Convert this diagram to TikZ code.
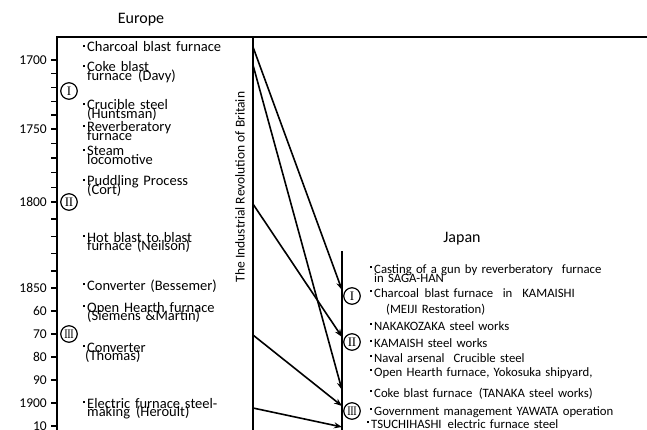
\documentclass[tikz,border=0pt]{standalone}
\usepackage{graphicx}
\usepackage{fontspec}
\setmainfont{Carlito}
\newfontfamily\numfont{Liberation Serif}
\usetikzlibrary{arrows.meta}
\newlength\bulw
\setlength\bulw{4pt}
\newcommand\bul{\makebox[\bulw][l]{\rule[4.8pt]{1.9pt}{1.9pt}}}
\newcommand\ind{\hspace*{\bulw}}
\newcommand\rI{I}
\newcommand\rII{I\kern-0.5ptI}
\newcommand\rIII{\scalebox{0.78}[1]{I\kern-0.5ptI\kern-0.5ptI}}
\begin{document}
\begin{tikzpicture}[x=1pt,y=-1pt,
  frame/.style={line width=1.6pt},
  tickmark/.style={line width=1.4pt},
  yearlab/.style={anchor=east,inner sep=0pt,font={\fontsize{13.5}{14}\selectfont}},
  euitem/.style={anchor=base west,inner sep=0pt,text width=168pt,align=left,
     font={\fontsize{14.5}{8.5}\selectfont\lineskiplimit=-100pt}},
  jpitem/.style={anchor=base west,inner sep=0pt,text width=270pt,align=left,
     font={\fontsize{12.75}{9}\selectfont\lineskiplimit=-100pt}},
  era/.style={circle,draw,line width=1.2pt,minimum size=16.5pt,inner sep=0pt,
     font={\numfont\fontsize{13}{13}\selectfont}},
  title/.style={anchor=base,inner sep=0pt,font={\fontsize{16}{16}\selectfont}},
  arr/.style={line width=1.6pt,-{Stealth[length=8pt,width=6pt]}},
]
\useasboundingbox (0,0) rectangle (647,430);

% frame
\draw[frame] (57,440) -- (57,37) -- (650,37);
\draw[frame] (253,37) -- (253,440);
\draw[frame] (342,251) -- (342,440);

% titles
\node[title] (europe) at (141,24) {Europe};
\node[title] (japan) at (462,243) {Japan};
\node[rotate=90,inner sep=0pt,font={\fontsize{13.5}{14}\selectfont}] (irb) at (240,187)
  {The Industrial Revolution of Britain};

% axis ticks
\foreach \ty in {60,73.8,87.6,101.4,115.2,129,143.6,158.2,172.8,187.4,202,
                 219.2,236.4,253.6,270.8,288,311,334,357,380,403,426}
  \draw[tickmark] (51,\ty) -- (57,\ty);

% year labels
\node[yearlab] (y1700) at (47,60) {1700};
\node[yearlab] (y1750) at (47,129) {1750};
\node[yearlab] (y1800) at (47,202) {1800};
\node[yearlab] (y1850) at (47,288) {1850};
\node[yearlab] (y1860) at (47,311) {60};
\node[yearlab] (y1870) at (47,334) {70};
\node[yearlab] (y1880) at (47,357) {80};
\node[yearlab] (y1890) at (47,380) {90};
\node[yearlab] (y1900) at (47,403) {1900};
\node[yearlab] (y1910) at (47,426) {10};

% era circles Europe
\node[era] (eI) at (69,91) {\rI};
\node[era] (eII) at (69,202) {\rII};
\node[era] (eIII) at (69,334) {\rIII};

% era circles Japan
\node[era] (jI) at (352,296) {\rI};
\node[era] (jII) at (352,342) {\rII};
\node[era] (jIII) at (352,411) {\rIII};

% Europe items
\node[euitem] (e1) at (83,52) {\bul Charcoal blast furnace};
\node[euitem] (e2) at (83,72) {\bul Coke blast\\\ind furnace\hspace{6pt}(Davy)};
\node[euitem] (e3) at (83,110) {\bul Crucible steel\\\ind(Huntsman)};
\node[euitem] (e4) at (83,132) {\bul Reverberatory\\\ind furnace};
\node[euitem] (e5) at (83,156) {\bul Steam\\\ind locomotive};
\node[euitem] (e6) at (83,186) {\bul Puddling Process\\\ind(Cort)};
\node[euitem] (e7) at (83,242) {\bul Hot blast to blast\\\ind furnace (Neilson)};
\node[euitem] (e8) at (83,290) {\bul Converter (Bessemer)};
\node[euitem] (e9) at (83,312) {\bul Open Hearth furnace\\\ind(Siemens \&Martin)};
\node[euitem] (e10) at (83,352) {\bul Converter\\\hspace*{2pt}(Thomas)};
\node[euitem] (e11) at (83,408) {\bul Electric furnace steel-\\\ind making\hspace{6pt}(Heroult)};

% Japan items
\node[jpitem] (j1) at (370,273) {\bul Casting of a gun by reverberatory\hspace{9pt}furnace\\\ind in SAGA-HAN};
\node[jpitem] (j2) at (370,297) {\bul Charcoal\hspace{5.5pt}blast furnace\hspace{9.5pt}in\hspace{10pt}KAMAISHI};
\node[jpitem] (j3) at (386,313) {(MEIJI Restoration)};
\node[jpitem] (j4) at (370,330) {\bul NAKAKOZAKA steel works};
\node[jpitem] (j5) at (370,347) {\bul KAMAISH steel works};
\node[jpitem] (j6) at (370,362) {\bul Naval arsenal\hspace{9pt}Crucible steel};
\node[jpitem] (j7) at (370,376) {\bul Open Hearth furnace, Yokosuka shipyard,};
\node[jpitem] (j8) at (370,397) {\bul Coke blast furnace\hspace{6.5pt}(TANAKA steel works)};
\node[jpitem] (j9) at (370,415) {\bul Government management YAWATA operation};
\node[jpitem] (j10) at (367,428) {\bul TSUCHIHASHI\hspace{6pt}electric furnace steel};

% arrow endpoints
\coordinate (s1) at (253,47);
\coordinate (s2) at (253,65);
\coordinate (s3) at (253,204);
\coordinate (s4) at (253,335);
\coordinate (s5) at (253,408);
\coordinate (t1) at (342,290);
\coordinate (t2) at (342,390);
\coordinate (t3) at (342,337);
\coordinate (t4) at (342,406);
\coordinate (t5) at (342,427);

\draw[arr] (s1) -- (t1);
\draw[arr] (s2) -- (t2);
\draw[arr] (s3) -- (t3);
\draw[arr] (s4) -- (t4);
\draw[arr] (s5) -- (t5);
\end{tikzpicture}
\end{document}
